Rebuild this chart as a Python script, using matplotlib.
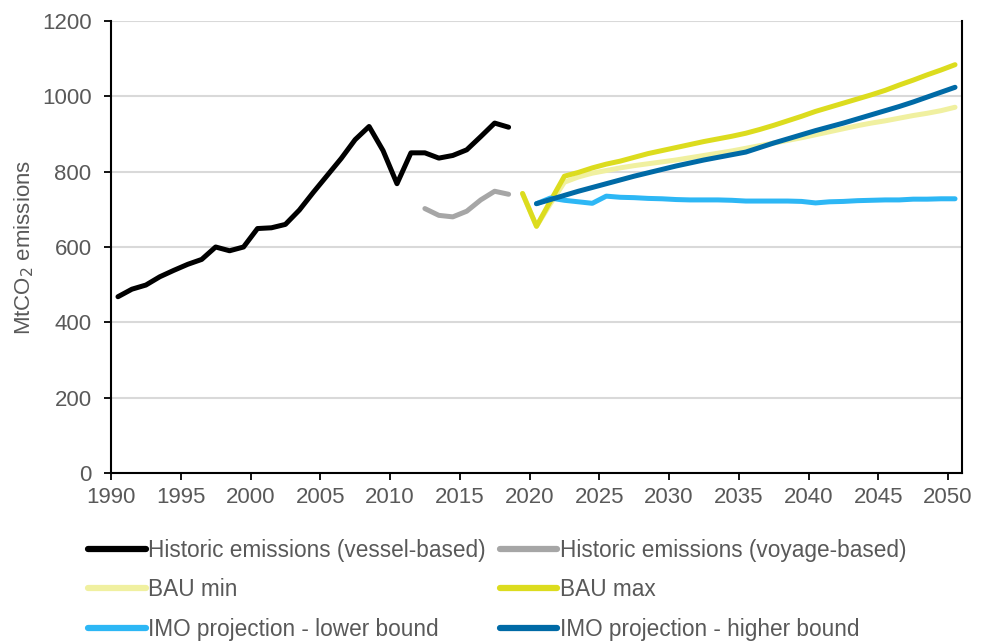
import numpy as np
import matplotlib
matplotlib.use("Agg")
import matplotlib.pyplot as plt

plt.rcParams['font.family'] = ['Liberation Sans', 'DejaVu Sans']

# ---- data ----
hist_vessel_years = list(range(1990, 2019))
hist_vessel = [468, 488, 499, 521, 538, 554, 567, 600, 590, 600,
               649, 651, 660, 698, 745, 790, 835, 885, 920, 856,
               768, 850, 850, 836, 843, 858, 893, 929, 918]

hist_voyage_years = list(range(2012, 2019))
hist_voyage = [702, 684, 680, 695, 725, 748, 740]

bau_years = list(range(2019, 2051))
bau_min = [742, 655, 715, 772, 786, 796, 803, 810, 816, 821,
           826, 831, 837, 843, 849, 855, 862, 869, 876, 883,
           890, 898, 906, 914, 922, 929, 935, 942, 949, 955,
           962, 971]
bau_max = [742, 655, 722, 788, 798, 810, 820, 828, 838, 848,
           856, 864, 872, 880, 887, 894, 902, 912, 923, 935,
           947, 960, 971, 982, 993, 1004, 1016, 1030, 1043, 1057,
           1070, 1084]

imo_years = list(range(2020, 2051))
imo_lower = [715, 730, 724, 720, 716, 735, 732, 731, 729, 728,
             726, 725, 725, 725, 724, 722, 722, 722, 722, 721,
             717, 720, 721, 723, 724, 725, 725, 727, 727, 728,
             728]
imo_higher = [715, 726, 737, 748, 758, 768, 778, 788, 797, 806,
              815, 823, 831, 838, 845, 852, 864, 876, 887, 898,
              909, 919, 929, 940, 951, 962, 973, 985, 998, 1011,
              1024]

x_tick_years = list(range(1990, 2051, 5))
y_ticks = [0, 200, 400, 600, 800, 1000, 1200]

labels = ["Historic emissions (vessel-based)", "Historic emissions (voyage-based)",
          "BAU min", "BAU max",
          "IMO projection - lower bound", "IMO projection - higher bound"]
colors = ["#000000", "#A6A6A6", "#F0F0A0", "#DCDC1E", "#2DB7F5", "#006AA6"]

# ---- figure ----
fig = plt.figure(figsize=(9.82, 6.41), dpi=100)
ax = fig.add_axes([111/982, 1-473/641, (962-111)/982, (473-21)/641])

lw = 3.6
series = [
    (hist_vessel_years, hist_vessel),
    (hist_voyage_years, hist_voyage),
    (bau_years, bau_min),
    (bau_years, bau_max),
    (imo_years, imo_lower),
    (imo_years, imo_higher),
]
handles = []
for (xs, ys), lab, c in zip(series, labels, colors):
    h, = ax.plot(xs, ys, color=c, lw=lw, solid_capstyle='round',
                 solid_joinstyle='round', label=lab)
    handles.append(h)

ax.set_xlim(1989.5, 2050.5)
ax.set_ylim(0, 1200)
ax.set_xticks([y - 0.5 for y in x_tick_years])
ax.set_xticklabels([str(y) for y in x_tick_years])
ax.set_yticks(y_ticks)
ax.yaxis.grid(True, color="#D9D9D9", lw=1.5)
ax.set_axisbelow(True)

for s in ['left', 'bottom', 'right']:
    ax.spines[s].set_color('black')
    ax.spines[s].set_linewidth(1.5)
ax.spines['top'].set_visible(False)

ax.tick_params(axis='both', direction='out', length=5, width=1.3,
               colors='black', labelcolor='#595959', labelsize=16)
ax.tick_params(axis='y', pad=9)
ax.tick_params(axis='x', pad=5)

ax.set_ylabel("MtCO$_2$ emissions", fontsize=16, color='#595959', labelpad=4)

order = [0, 2, 4, 1, 3, 5]
leg = fig.legend(handles=[handles[i] for i in order],
                 labels=[labels[i] for i in order], ncol=2, frameon=False,
                 loc='upper left', bbox_to_anchor=(88/982, 1-539/641),
                 fontsize=16.3, handlelength=2.55, handletextpad=0.12,
                 columnspacing=0.6, labelspacing=0.72, borderaxespad=0,
                 borderpad=0)
for t in leg.get_texts():
    t.set_color('#595959')
for lh in leg.get_lines():
    lh.set_linewidth(4.5)

fig.savefig("out.png", dpi=100)
